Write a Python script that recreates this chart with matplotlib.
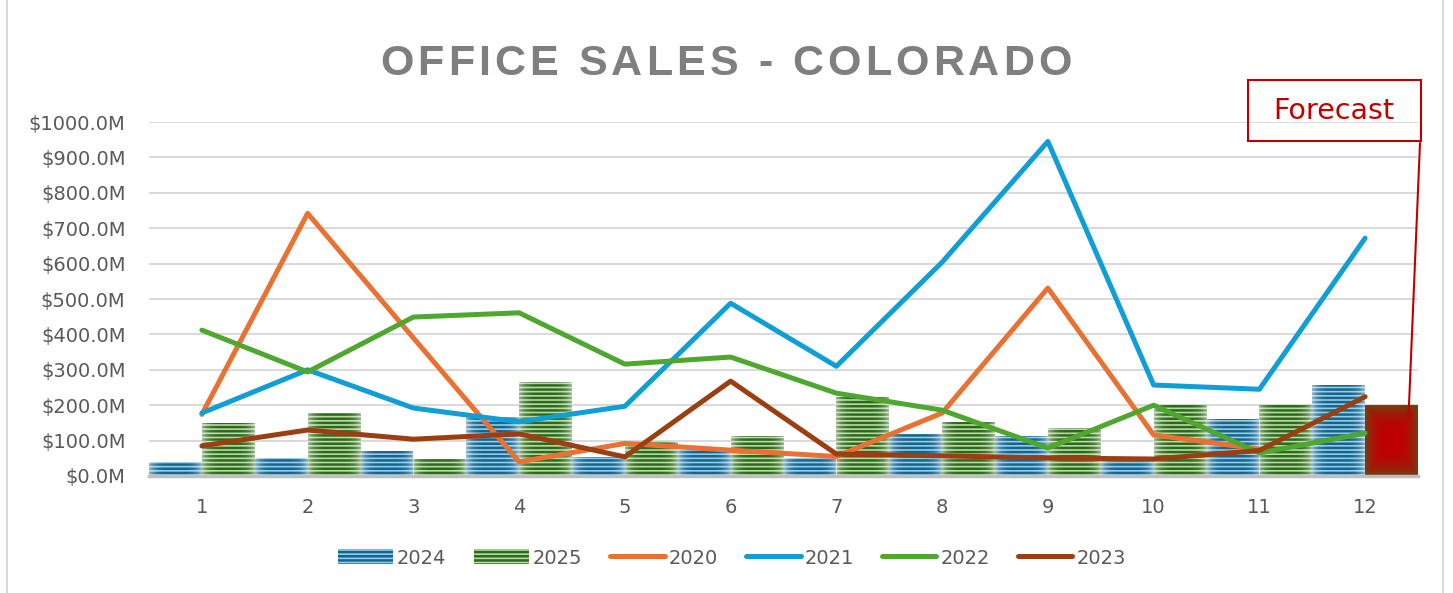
import numpy as np
import matplotlib
matplotlib.use('Agg')
import matplotlib.pyplot as plt
from matplotlib.patches import Rectangle, ConnectionPatch
from matplotlib.font_manager import FontProperties, findfont, get_font
from matplotlib.ft2font import LoadFlags

months = [1, 2, 3, 4, 5, 6, 7, 8, 9, 10, 11, 12]

# values in $M
sales_2024 = [40, 51, 71, 168, 55, 73, 51, 119, 113, 47, 161, 257]
sales_2025 = [150, 178, 48, 266, 99, 113, 223, 152, 135, 200, 200, 200]
sales_2020 = [174, 742, 390, 40, 92, 73, 55, 178, 531, 116, 76, np.nan]
sales_2021 = [178, 300, 192, 153, 197, 488, 310, 604, 945, 257, 245, 672]
sales_2022 = [412, 294, 449, 461, 316, 336, 234, 186, 79, 200, 65, 121]
sales_2023 = [85, 130, 104, 119, 54, 268, 62, 57, 51, 48, 72, 224]

line_series = [('2020', sales_2020, '#E97132'),
               ('2021', sales_2021, '#0F9ED5'),
               ('2022', sales_2022, '#4EA72E'),
               ('2023', sales_2023, '#9B3F12')]

plt.rcParams['hatch.linewidth'] = 1.8
plt.rcParams['font.family'] = ['DejaVu Sans']

fig = plt.figure(figsize=(14.53, 5.93), dpi=100)
ax = fig.add_axes([149 / 1453, 1 - 476 / 593, (1418 - 149) / 1453, (476 - 122) / 593])

x = np.array(months)
bw = 0.5
b24 = ax.bar(x - bw / 2, sales_2024, width=bw, facecolor='#8fcdea', edgecolor='#17638b',
             hatch='----', linewidth=0, label='2024', zorder=2)
b25 = ax.bar(x + bw / 2, sales_2025, width=bw, facecolor='#b8da9e', edgecolor='#2c6920',
             hatch='----', linewidth=0, label='2025', zorder=2)

# last 2025 bar is the forecast: solid red with darker edges
fc = b25.patches[-1]
fc.set_hatch(None)
fc.set_facecolor('#c00000')

# soft light edges on the striped bars
ramp = np.linspace(-1, 1, 40)
glow = np.zeros((2, 40, 4))
glow[..., :3] = 1.0
glow[..., 3] = 0.5 * np.abs(ramp) ** 4
for p in list(b24.patches) + list(b25.patches)[:-1]:
    px = p.get_x()
    g = ax.imshow(glow, extent=[px, px + p.get_width(), 0, p.get_height()],
                  aspect='auto', zorder=2.2, interpolation='bilinear')
    g.set_clip_path(p)

gx = np.linspace(-1, 1, 60)
GX, GY = np.meshgrid(gx, gx)
d = np.clip(np.maximum(np.abs(GX), np.abs(GY)) ** 3, 0, 1)
c_in = np.array([0.75, 0.0, 0.0])
c_out = np.array([0.45, 0.25, 0.07])
img = c_in[None, None, :] * (1 - d[..., None]) + c_out[None, None, :] * d[..., None]
x0 = fc.get_x()
im = ax.imshow(img, extent=[x0, x0 + fc.get_width(), 0, fc.get_height()],
               aspect='auto', zorder=2.5, interpolation='bilinear')
im.set_clip_path(fc)

for name, vals, col in line_series:
    ax.plot(x, vals, color=col, linewidth=3.6, label=name, zorder=3,
            solid_capstyle='round', solid_joinstyle='round')

ax.set_xlim(0.5, 12.5)
ax.set_ylim(0, 1000)
ax.set_yticks(np.arange(0, 1001, 100))
ax.set_yticklabels([f'${v:.1f}M' for v in np.arange(0, 1001, 100)])
ax.set_xticks(x)
ax.set_xticklabels([str(m) for m in months])
ax.tick_params(axis='both', length=0, labelsize=14, labelcolor='#595959')
ax.tick_params(axis='y', pad=17)
ax.tick_params(axis='x', pad=16)
ax.grid(axis='y', color='#d9d9d9', linewidth=1.4, zorder=0)
ax.set_axisbelow(True)
for s in ['top', 'right', 'left']:
    ax.spines[s].set_visible(False)
ax.spines['bottom'].set_color('#bfbfbf')
ax.spines['bottom'].set_linewidth(2.5)
ax.spines['bottom'].set_zorder(4)

# title with letter spacing
title = 'OFFICE SALES - COLORADO'
fp = FontProperties(family='Liberation Sans', weight='bold', size=31)
font = get_font(findfont(fp))
font.set_size(31, 100)
adv = []
for ch in title:
    g = font.load_char(ord(ch), flags=LoadFlags.NO_HINTING)
    adv.append(g.linearHoriAdvance / 65536)
spacing = (692 - sum(adv)) / (len(title) - 1)
cx = 726 - 692 / 2
for ch, a in zip(title, adv):
    if ch != ' ':
        fig.text((cx + a / 2) / 1453, 1 - 75 / 593, ch, fontproperties=fp,
                 color='#7f7f7f', ha='center', va='baseline')
    cx += a + spacing

# forecast callout
fig.patches.append(Rectangle((1248 / 1453, 1 - 141 / 593), 173 / 1453, 61 / 593,
                             transform=fig.transFigure, fill=False,
                             edgecolor='#c00000', linewidth=1.5))
fig.text(1334 / 1453, 1 - 111 / 593, 'Forecast', color='#c00000', fontsize=20.5,
         ha='center', va='center')
con = ConnectionPatch(xyA=(1420, 593 - 143), coordsA='figure pixels',
                      xyB=(12.41, sales_2025[-1] * 0.83), coordsB='data', axesB=ax,
                      color='#c00000', linewidth=1.5, zorder=5)
fig.add_artist(con)

# chart border
fig.patches.append(Rectangle((7 / 1453, -0.02), 1436 / 1453, 1.04,
                             transform=fig.transFigure, fill=False,
                             edgecolor='#d9d9d9', linewidth=1.5))

handles, labels = ax.get_legend_handles_labels()
order = ['2024', '2025', '2020', '2021', '2022', '2023']
hmap = dict(zip(labels, handles))
leg = fig.legend([hmap[k] for k in order], order, loc='center',
                 bbox_to_anchor=(732 / 1453, 1 - 558 / 593), ncol=6, frameon=False,
                 fontsize=14, handlelength=2.8, handleheight=0.8, columnspacing=1.45,
                 handletextpad=0.2)
for t in leg.get_texts():
    t.set_color('#595959')

fig.savefig('out.png', dpi=100, facecolor='white')
